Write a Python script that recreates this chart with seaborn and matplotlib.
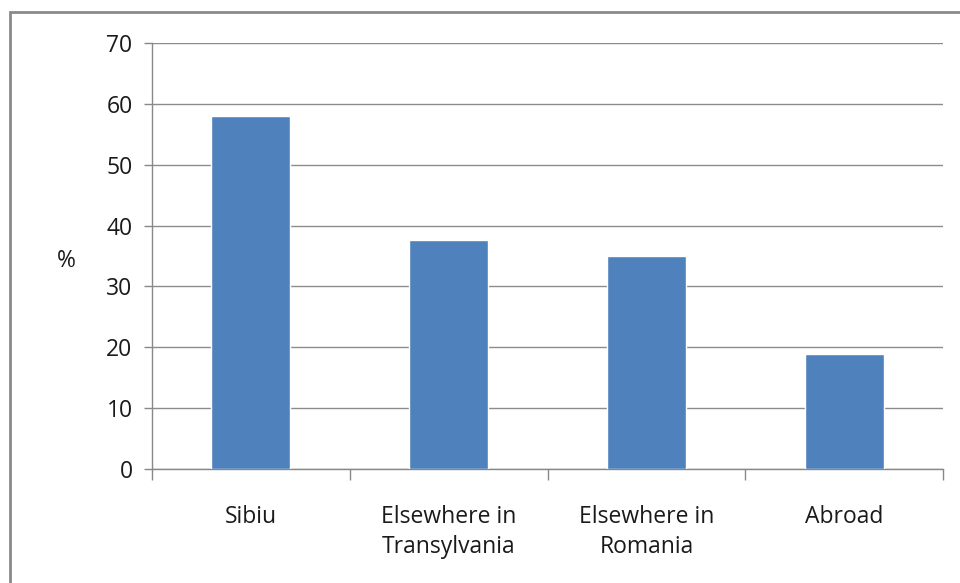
import matplotlib
matplotlib.use("Agg")
import matplotlib.pyplot as plt
import pandas as pd
import seaborn as sns
from matplotlib.patches import Rectangle

# values
categories = ["Sibiu", "Elsewhere in\nTransylvania", "Elsewhere in\nRomania", "Abroad"]
percent = [58.0, 37.6, 35.0, 18.9]
y_ticks = [0, 10, 20, 30, 40, 50, 60, 70]

df = pd.DataFrame({"place": categories, "pct": percent})

sns.set_theme(style="white")
plt.rcParams["font.family"] = ["Open Sans", "DejaVu Sans"]

fig = plt.figure(figsize=(9.6, 5.83), dpi=100)
ax = fig.add_axes([152 / 960, 1 - 469 / 583, 791 / 960, 426 / 583])

sns.barplot(data=df, x="place", y="pct", color="#4f81bd", saturation=1,
            width=0.4, ax=ax, zorder=3)

ax.set_ylim(0, 70)
ax.set_xlim(-0.5, len(categories) - 0.5)
ax.set_yticks(y_ticks)
ax.set_yticklabels([str(t) for t in y_ticks], fontsize=16.5, color="#1a1a1a")
ax.tick_params(axis="y", length=6, width=1, color="#888888", pad=8, direction="out", left=True)
ax.yaxis.grid(True, color="#8c8c8c", linewidth=1, zorder=0)

# x ticks sit between categories, labels centred on bars
ax.set_xticks([i - 0.5 for i in range(len(categories) + 1)], minor=False)
ax.set_xticklabels([])
ax.set_xticks(range(len(categories)), minor=True)
ax.set_xticklabels(categories, minor=True, fontsize=16.5, color="#1a1a1a",
                   linespacing=1.35)
ax.tick_params(axis="x", which="major", length=8, width=1, color="#888888", direction="out", bottom=True)
ax.tick_params(axis="x", which="minor", length=0, pad=26)

ax.set_xlabel("")
ax.set_ylabel("%", fontsize=16.5, rotation=0, color="#1a1a1a", va="center", ha="center")
ax.yaxis.set_label_coords(-0.108, 0.488)

for side in ["top", "right"]:
    ax.spines[side].set_visible(False)
for side in ["left", "bottom"]:
    ax.spines[side].set_color("#888888")
    ax.spines[side].set_linewidth(1)

# outer frame of the chart area
fig.patches.append(Rectangle((10 / 960, -0.1), 1.2, 1 - 12 / 583 + 0.1,
                             transform=fig.transFigure, fill=False,
                             edgecolor="#8a8a8a", linewidth=2))

fig.savefig("out.png", dpi=100)
